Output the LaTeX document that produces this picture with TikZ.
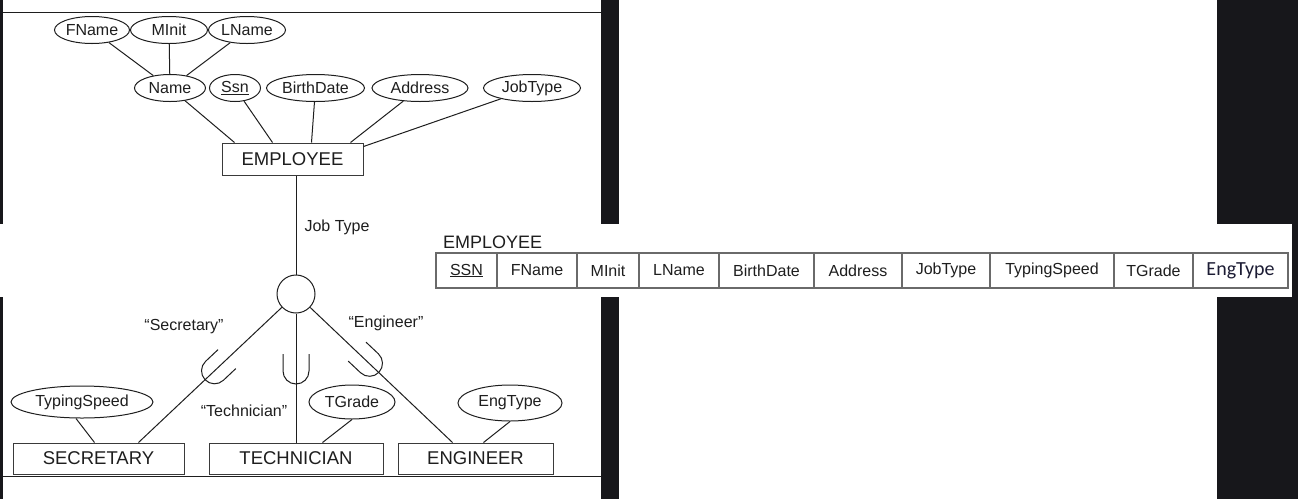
\documentclass[tikz,border=0pt]{standalone}
\usepackage{fontspec}
\setmainfont{Liberation Sans}
\newfontfamily\calib{Carlito}
\usetikzlibrary{shapes.geometric,calc}
\definecolor{bgdark}{HTML}{17171B}
\definecolor{ink}{HTML}{1E1E1E}
\definecolor{boxline}{HTML}{3A3A3A}
\definecolor{cellline}{HTML}{6A6A6A}
\definecolor{engink}{HTML}{1C1C34}
\begin{document}
\begin{tikzpicture}[x=1pt,y=-1pt,
  attr/.style={ellipse,draw=ink,line width=1pt,inner sep=0pt,text=ink,font=\fontsize{16}{17}\selectfont},
  ent/.style={rectangle,draw=boxline,line width=1pt,inner sep=0pt,minimum height=31pt,text=ink,font=\fontsize{18.5}{20}\selectfont},
  cell/.style={rectangle,draw=cellline,line width=1.3pt,inner sep=0pt,minimum height=35pt,text=ink,font=\fontsize{16}{18}\selectfont},
  conn/.style={draw=ink,line width=1pt},
  lbl/.style={inner sep=0pt,text=ink,font=\fontsize{16}{17}\selectfont},
  cupshape/.style={draw=ink,line width=1pt}]
\useasboundingbox (0,0) rectangle (1298,499);
% backgrounds
\fill[bgdark] (0,0) rectangle (1298,499);
\fill[white] (2.5,0) rectangle (601,499);
\fill[white] (619,0) rectangle (1217,499);
\fill[white] (0,224) rectangle (1292,297);
\draw[ink,line width=1pt] (2.5,12) -- (601,12);
\draw[ink,line width=1pt] (2.5,476) -- (601,476);
% attributes
\node[attr,minimum width=75pt,minimum height=27pt] (fname) at (92,30) {FName};
\node[attr,minimum width=77pt,minimum height=27pt] (minit) at (169,30) {MInit};
\node[attr,minimum width=77pt,minimum height=27pt] (lname) at (247,30) {LName};
\node[attr,minimum width=71pt,minimum height=27pt] (name) at (170,88) {Name};
\node[attr,minimum width=51pt,minimum height=27pt] (ssn) at (235,88) {\underline{Ssn}};
\node[attr,minimum width=98pt,minimum height=27pt] (birth) at (315.5,88) {BirthDate};
\node[attr,minimum width=96pt,minimum height=27pt] (addr) at (420,88) {Address};
\node[attr,minimum width=97pt,minimum height=27pt] (jobt) at (532,88) {JobType};
\node[ent,minimum width=141pt,minimum height=32pt] (emp) at (292.5,159) {EMPLOYEE};
% connectors to EMPLOYEE
\draw[conn] (fname) -- (name);
\draw[conn] (minit) -- (name);
\draw[conn] (lname) -- (name);
\draw[conn] (name) -- ([xshift=13pt]emp.north west);
\draw[conn] (ssn) -- ([xshift=51pt]emp.north west);
\draw[conn] (birth) -- ([xshift=90pt]emp.north west);
\draw[conn] (addr) -- ([xshift=129pt]emp.north west);
\draw[conn] (jobt) -- ([yshift=-4pt]emp.north east);
% specialization circle
\node[circle,draw=ink,line width=1pt,minimum size=38pt,inner sep=0pt] (circ) at (296,294) {};
\draw[conn] (emp.south -| circ) -- (circ);
\node[lbl] (jt) at (337,227) {Job Type};
% subclasses
\node[ent,minimum width=171pt] (sec) at (98.5,458.5) {SECRETARY};
\node[ent,minimum width=174pt] (tech) at (296,458.5) {TECHNICIAN};
\node[ent,minimum width=155pt] (eng) at (475.5,458.5) {ENGINEER};
\draw[conn] (circ) -- ([xshift=126pt]sec.north west);
\draw[conn] (circ) -- (circ |- tech.north);
\draw[conn] (circ) -- ([xshift=55pt]eng.north west);
% subset symbols
\draw[cupshape,shift={(214.5,370.8)},rotate=-46.7] (-13pt,17pt) -- (-13pt,0pt) arc[start angle=180,end angle=360,radius=13pt] -- (13pt,17pt);
\draw[cupshape,shift={(296,371)}] (-13pt,17pt) -- (-13pt,0pt) arc[start angle=180,end angle=360,radius=13pt] -- (13pt,17pt);
\draw[cupshape,shift={(369.5,363.3)},rotate=46.7] (-13pt,17pt) -- (-13pt,0pt) arc[start angle=180,end angle=360,radius=13pt] -- (13pt,17pt);
% labels
\node[lbl] (qs) at (184,327) {“Secretary”};
\node[lbl] (qt) at (244,411) {“Technician”};
\node[lbl] (qe) at (386,323) {“Engineer”};
% local attributes
\node[attr,minimum width=142pt,minimum height=32pt] (typ) at (82,402) {TypingSpeed};
\node[attr,minimum width=86pt,minimum height=34pt] (tgr) at (352,402) {TGrade};
\node[attr,minimum width=104pt,minimum height=36pt] (engt) at (510,403) {EngType};
\draw[conn] ([xshift=-6pt]typ.south) -- ([xshift=82pt]sec.north west);
\draw[conn] (tgr.south) -- ([xshift=114pt]tech.north west);
\draw[conn] (engt.south) -- ([xshift=86pt]eng.north west);
% relation table
\node[inner sep=0pt,anchor=west,text=ink,font=\fontsize{18}{20}\selectfont] (tl) at (443,242) {EMPLOYEE};
\node[cell,minimum width=61pt] (c1) at (466.5,270.5) {\underline{SSN}};
\node[cell,minimum width=80pt] (c2) at (537,270.5) {FName};
\node[cell,minimum width=62pt] (c3) at (608,270.5) {MInit};
\node[cell,minimum width=80pt] (c4) at (679,270.5) {LName};
\node[cell,minimum width=95pt] (c5) at (766.5,270.5) {BirthDate};
\node[cell,minimum width=88pt] (c6) at (858,270.5) {Address};
\node[cell,minimum width=88pt] (c7) at (946,270.5) {JobType};
\node[cell,minimum width=124pt] (c8) at (1052,270.5) {TypingSpeed};
\node[cell,minimum width=79pt] (c9) at (1153.5,270.5) {TGrade};
\node[cell,minimum width=95pt,text=engink,font=\calib\fontsize{20}{22}\selectfont] (c10) at (1240.5,270.5) {EngType};
\end{tikzpicture}
\end{document}
